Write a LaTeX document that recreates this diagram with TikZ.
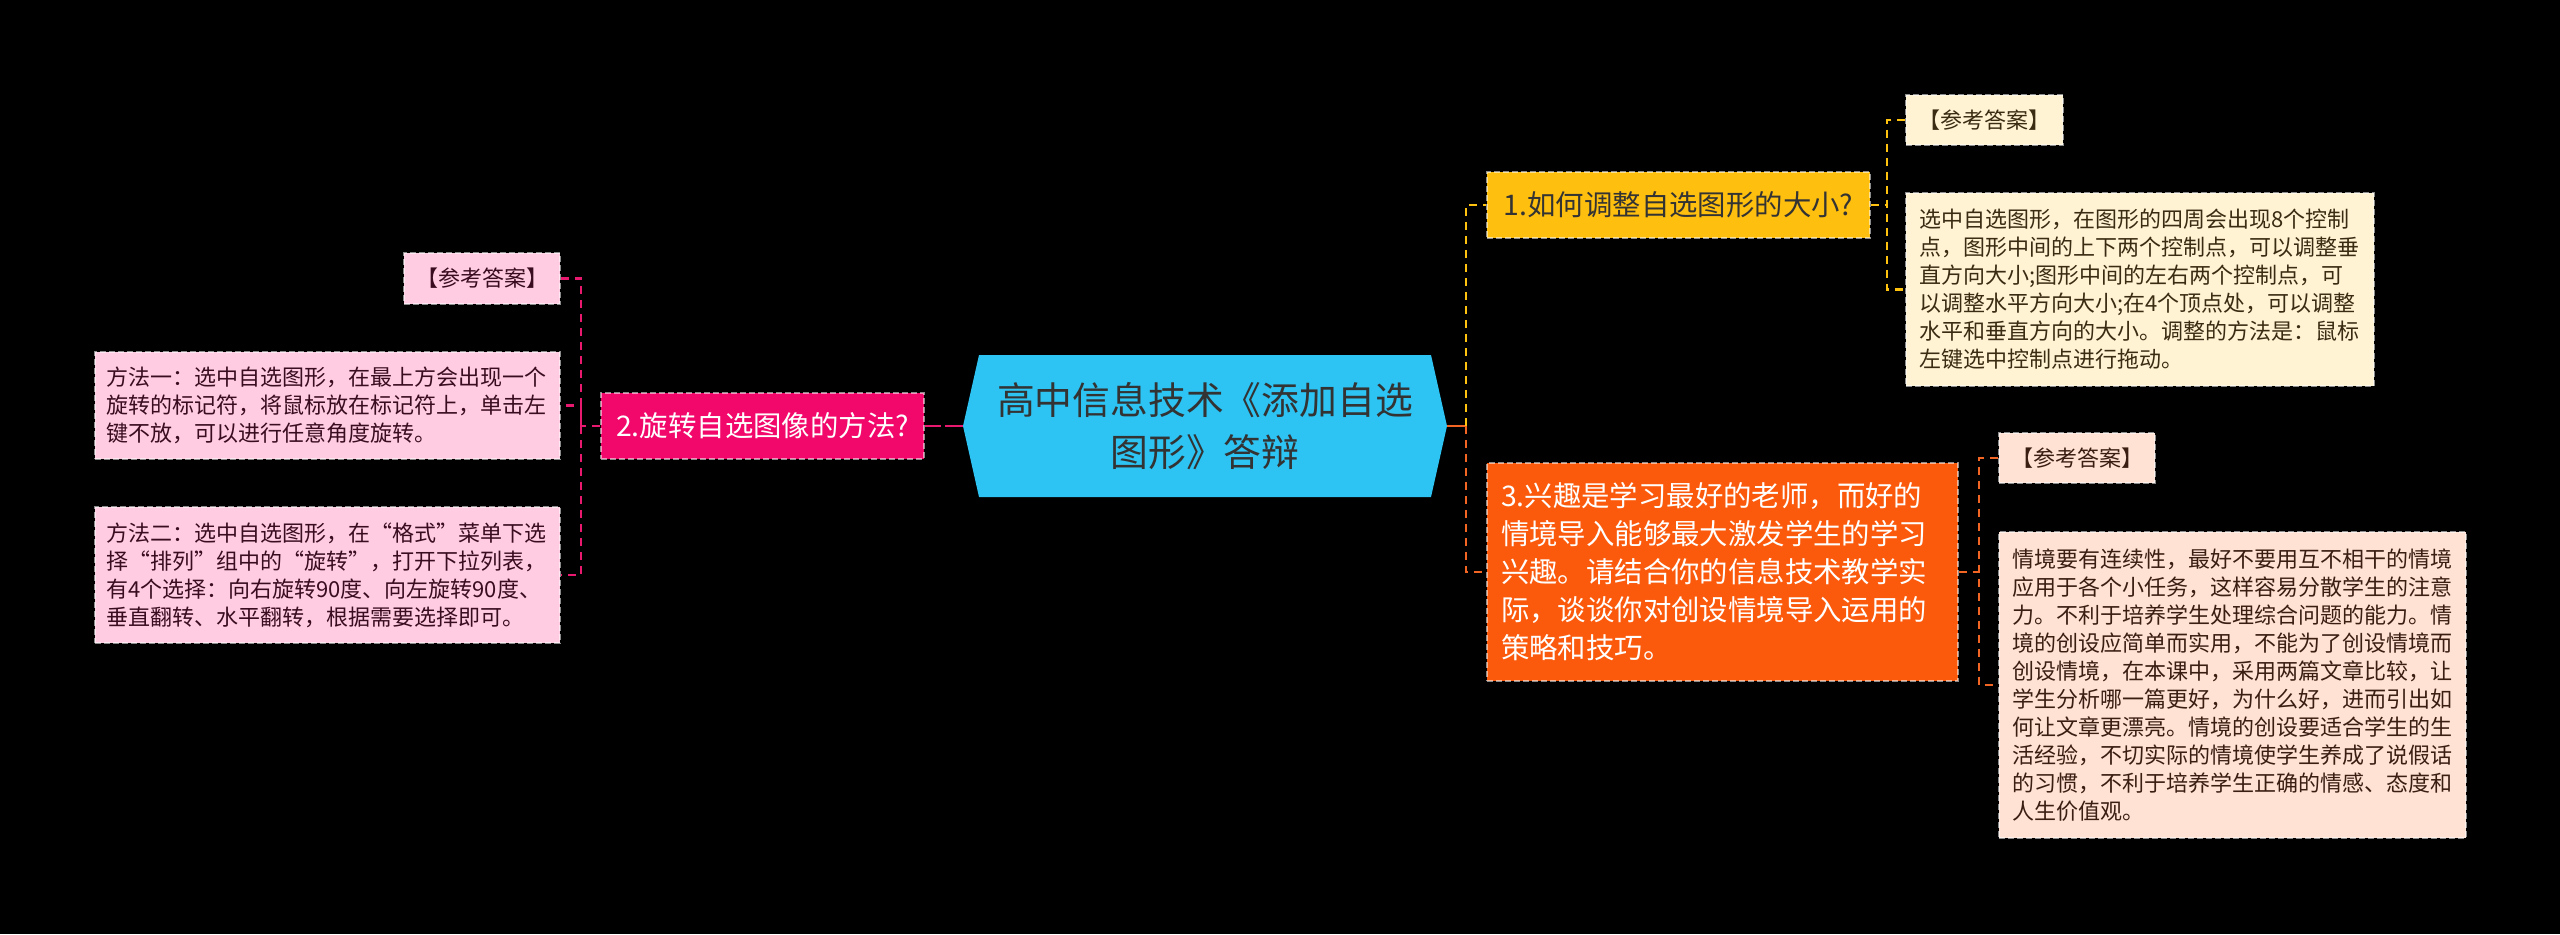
\documentclass[tikz,border=0pt]{standalone}
\usepackage{fontspec}
\newfontfamily\cjk{Noto Sans CJK SC}
\definecolor{rootblue}{HTML}{2DC3F3}
\definecolor{bone}{HTML}{FFBF0F}
\definecolor{btwo}{HTML}{F2076B}
\definecolor{bthree}{HTML}{FB5A0C}
\definecolor{leafpink}{HTML}{FFCCE1}
\definecolor{leafcream}{HTML}{FFF3D4}
\definecolor{leafpeach}{HTML}{FFE2D3}
\definecolor{textdark}{HTML}{333333}
\definecolor{pinktext}{HTML}{3A0C20}
\definecolor{creamtext}{HTML}{3A2C12}
\definecolor{peachtext}{HTML}{3A1E12}
\definecolor{lineone}{HTML}{FFC20E}
\definecolor{linetwo}{HTML}{E8196E}
\definecolor{linethree}{HTML}{F26522}

\begin{document}
\begin{tikzpicture}[x=0.5pt,y=-0.5pt,
    every node/.style={font=\cjk},
    box/.style={draw=white,draw opacity=0.55,dash pattern=on 3pt off 1.5pt,
        line width=0.7pt,inner sep=0pt},
    branch/.style={box,font=\cjk\fontsize{14.2pt}{19pt}\selectfont},
    leaf/.style={box,align=left,font=\cjk\fontsize{11pt}{14pt}\selectfont},
    link/.style={line width=1.2pt,dash pattern=on 4pt off 3pt}]
    \fill[black] (0,0) rectangle (2560,934);
    \useasboundingbox (0,0) rectangle (2560,934);

    % centre
    \fill[rootblue] (963,426) -- (979,355) -- (1431,355) -- (1447,426)
        -- (1431,497) -- (979,497) -- cycle;
    \node[minimum width=242pt,minimum height=71pt,inner sep=0pt,align=center,
        text=textdark,font=\cjk\fontsize{18.9pt}{26pt}\selectfont]
        (root) at (1205,426) {高中信息技术《添加自选\\图形》答辩};

    % branches
    \node[branch,fill=bone,text=textdark,minimum width=191.5pt,minimum height=33pt]
        (b1) at (1678.5,205) {1.如何调整自选图形的大小?};
    \node[branch,fill=btwo,text=white,minimum width=161.5pt,minimum height=33pt]
        (b2) at (762.5,426) {2.旋转自选图像的方法?};
    \node[branch,fill=bthree,text=white,align=left,text width=221.5pt,
        inner xsep=7pt,minimum height=109pt] (b3) at (1722.5,572)
        {3.兴趣是学习最好的老师，而好的\\情境导入能够最大激发学生的学习\\兴趣。请结合你的信息技术教学实\\际，谈谈你对创设情境导入运用的\\策略和技巧。};

    % leaves of 1
    \node[leaf,fill=leafcream,text=creamtext,align=center,minimum width=78.5pt,
        minimum height=25pt] (y1) at (1984.5,120) {【参考答案】};
    \node[leaf,fill=leafcream,text=creamtext,text width=221pt,inner xsep=6.5pt,
        minimum height=96.5pt] (y2) at (2140,289.5)
        {选中自选图形，在图形的四周会出现8个控制\\点，图形中间的上下两个控制点，可以调整垂\\直方向大小;图形中间的左右两个控制点，可\\以调整水平方向大小;在4个顶点处，可以调整\\水平和垂直方向的大小。调整的方法是：鼠标\\左键选中控制点进行拖动。};

    % leaves of 2
    \node[leaf,fill=leafpink,text=pinktext,align=center,minimum width=78pt,
        minimum height=25.5pt] (p1) at (482,278.5) {【参考答案】};
    \node[leaf,fill=leafpink,text=pinktext,text width=221.5pt,inner xsep=5.5pt,
        minimum height=53.5pt] (p2) at (327.5,405.5)
        {方法一：选中自选图形，在最上方会出现一个\\旋转的标记符，将鼠标放在标记符上，单击左\\键不放，可以进行任意角度旋转。};
    \node[leaf,fill=leafpink,text=pinktext,text width=221.5pt,inner xsep=5.5pt,
        minimum height=68pt] (p3) at (327.5,575)
        {方法二：选中自选图形，在“格式”菜单下选\\择“排列”组中的“旋转”，打开下拉列表，\\有4个选择：向右旋转90度、向左旋转90度、\\垂直翻转、水平翻转，根据需要选择即可。};

    % leaves of 3
    \node[leaf,fill=leafpeach,text=peachtext,align=center,minimum width=78pt,
        minimum height=25pt] (o1) at (2077,458) {【参考答案】};
    \node[leaf,fill=leafpeach,text=peachtext,text width=220.5pt,inner xsep=6.5pt,
        minimum height=153pt] (o2) at (2232.5,685)
        {情境要有连续性，最好不要用互不相干的情境\\应用于各个小任务，这样容易分散学生的注意\\力。不利于培养学生处理综合问题的能力。情\\境的创设应简单而实用，不能为了创设情境而\\创设情境，在本课中，采用两篇文章比较，让\\学生分析哪一篇更好，为什么好，进而引出如\\何让文章更漂亮。情境的创设要适合学生的生\\活经验，不切实际的情境使学生养成了说假话\\的习惯，不利于培养学生正确的情感、态度和\\人生价值观。};

    % connectors
    \coordinate (jr) at (1466,426);
    \coordinate (jl) at (581,426);
    \coordinate (j1) at (1887,205);
    \coordinate (j3) at (1979,572);
    \draw[link,linetwo,dash pattern=on 9pt off 2pt] (root.west) -- (b2.east);
    \draw[line width=1.2pt,linethree] (root.east) -- (jr);
    \draw[link,lineone] (jr) |- (b1.west);
    \draw[link,linethree] (jr) |- (b3.west);

    \draw[link,linetwo] (b2.west) -- (jl);
    \draw[link,linetwo] (p1.east) -| (jl) |- (p3.east);
    \draw[link,linetwo] (jl) |- (p2.east);

    \draw[link,lineone] (b1.east) -- (j1);
    \draw[link,lineone] (y1.west) -| (j1) |- (y2.west);

    \draw[link,linethree] (b3.east) -- (j3);
    \draw[link,linethree] (o1.west) -| (j3) |- (o2.west);
\end{tikzpicture}
\end{document}
